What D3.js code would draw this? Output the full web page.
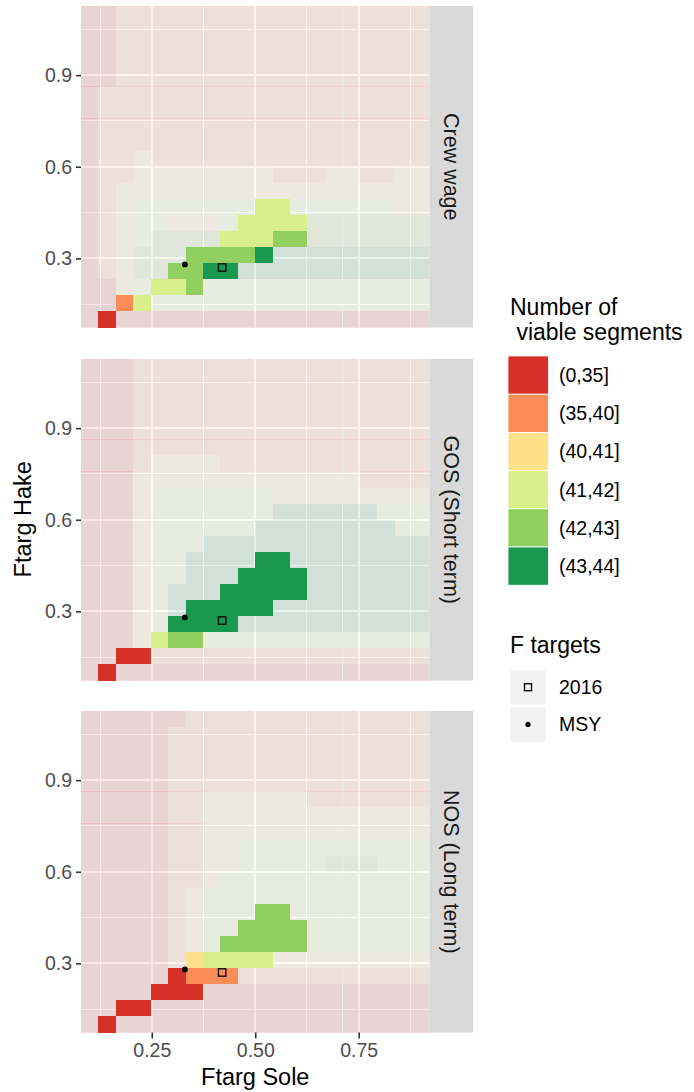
<!DOCTYPE html>
<html>
<head>
<meta charset="utf-8">
<script src="https://cdn.jsdelivr.net/npm/d3@7"></script>
<style>
  body { margin: 0; background: #fff; }
  svg text { font-family: "Liberation Sans", Arial, sans-serif; }
</style>
</head>
<body>
<div id="chart"></div>
<script>
const width = 694;
const height = 1092;

// Ftarg values on the grid (20 x 20)
const soleF = [0.100, 0.142, 0.184, 0.226, 0.268, 0.311, 0.353, 0.395, 0.437, 0.479,
               0.521, 0.563, 0.605, 0.647, 0.689, 0.732, 0.774, 0.816, 0.858, 0.900];
const hakeF = [0.100, 0.153, 0.205, 0.258, 0.311, 0.363, 0.416, 0.468, 0.521, 0.574,
               0.626, 0.679, 0.732, 0.784, 0.837, 0.889, 0.942, 0.995, 1.047, 1.100];

const categories = ["(0,35]", "(35,40]", "(40,41]", "(41,42]", "(42,43]", "(43,44]"];
const catColors = ["#D73027", "#FC8D59", "#FEE08B", "#D9EF8B", "#91CF60", "#1A9850"];

const facets = ["Crew wage", "GOS (Short term)", "NOS (Long term)"];

// category index per cell, rows from highest hake F down, one char per sole column
const crewWage = [
  "00111111111111111111", "00111111111111111111", "00111111111111111111",
  "00111111111111111111", "00111111111111111111", "01111111111111111111",
  "01111111111111111111", "01111111111111111111", "01111111111111111111",
  "01121111111111111111", "01122222222111221122", "01222222222222222222",
  "01233333333333333322", "01233222333334444444", "01234444333444444444",
  "01244444445555555555", "01244445555555555555", "00233343333333333333",
  "00133333333333333333", "00000000000000000000"
];
const gosShort = [
  "00011111111111111111", "00011111111111111111", "00011111111111111111",
  "00011111111111111111", "00011111111111111111", "00011111111111111111",
  "00012222111111111111", "00022222222222221111", "00023333333222222222",
  "00023333333555555333", "00023333335555555533", "00023335555555555555",
  "00023355555555555555", "00023355555555555555", "00023555555555555555",
  "00023555555555555555", "00023555555555555555", "00023443333333333333",
  "00001111111111111111", "00000000000000000000"
];
const nosLong = [
  "00000011111111111111", "00000111111111111111", "00000111111111111111",
  "00000111111111111111", "00000111111111111111", "00000112222221111111",
  "00000112222222222222", "00000112222222222222", "00000112233333333333",
  "00000112233333444333", "00000112333333333333", "00000123333333333333",
  "00000123334433333333", "00000123344443333333", "00000123444443333333",
  "00000123333222222222", "00000011111111111111", "00000000000000000000",
  "00000000000000000000", "00000000000000000000"
];
const panelGrids = [crewWage, gosShort, nosLong];

// cells drawn solid (the rest are faded)
const solidMask = [
  "00000000000000000000", "00000000000000000000", "00000000000000000000",
  "00000000000000000000", "00000000000000000000", "00000000000000000000",
  "00000000000000000000", "00000000000000000000", "00000000000000000000",
  "00000000000000000000", "00000000000000000000", "00000000000000000000",
  "00000000001100000000", "00000000011110000000", "00000000111110000000",
  "00000011111000000000", "00000111100000000000", "00001110000000000000",
  "00110000000000000000", "01000000000000000000"
];

const targetNames = ["2016", "MSY"];
const targetSole = [0.42, 0.33];
const targetHake = [0.27, 0.28];

const xTicks = [0.25, 0.50, 0.75];
const xMinor = [0.125, 0.375, 0.625, 0.875];
const yTicks = [0.3, 0.6, 0.9];
const yMinor = [0.15, 0.45, 0.75, 1.05];

// layout
const panelLeft = 81, panelRight = 429.5;
const panelTops = [6, 359, 711];
const panelH = 321.5;
const stripW = 43.5;

const svg = d3.select("#chart").append("svg")
    .attr("width", width).attr("height", height);

const dxHalf = (soleF[1] - soleF[0]) / 2;
const dyHalf = (hakeF[1] - hakeF[0]) / 2;

const x = d3.scaleLinear()
    .domain([d3.min(soleF) - dxHalf, d3.max(soleF) + dxHalf])
    .range([panelLeft, panelRight]);

const color = d3.scaleOrdinal().domain(d3.range(categories.length)).range(catColors);

// pixel snapping for thin lines
const snap1 = v => Math.floor(v) + 0.5;
const snap2 = v => Math.round(v);

panelGrids.forEach((grid, p) => {
    const top = panelTops[p];
    const y = d3.scaleLinear()
        .domain([d3.min(hakeF) - dyHalf, d3.max(hakeF) + dyHalf])
        .range([top + panelH, top]);

    const g = svg.append("g");

    g.append("rect")
        .attr("x", panelLeft).attr("y", top)
        .attr("width", panelRight - panelLeft).attr("height", panelH)
        .attr("fill", "#EBEBEB");

    // grid lines
    g.selectAll(".xminor").data(xMinor).enter().append("line")
        .attr("x1", d => snap1(x(d))).attr("x2", d => snap1(x(d)))
        .attr("y1", top).attr("y2", top + panelH)
        .attr("stroke", "#fff").attr("stroke-width", 1);
    g.selectAll(".yminor").data(yMinor).enter().append("line")
        .attr("y1", d => snap1(y(d))).attr("y2", d => snap1(y(d)))
        .attr("x1", panelLeft).attr("x2", panelRight)
        .attr("stroke", "#fff").attr("stroke-width", 1);
    g.selectAll(".xmajor").data(xTicks).enter().append("line")
        .attr("x1", d => snap2(x(d))).attr("x2", d => snap2(x(d)))
        .attr("y1", top).attr("y2", top + panelH)
        .attr("stroke", "#fff").attr("stroke-width", 2);
    g.selectAll(".ymajor").data(yTicks).enter().append("line")
        .attr("y1", d => snap2(y(d))).attr("y2", d => snap2(y(d)))
        .attr("x1", panelLeft).attr("x2", panelRight)
        .attr("stroke", "#fff").attr("stroke-width", 2);

    // cells
    const cells = [];
    grid.forEach((row, r) => {
        const j = hakeF.length - 1 - r;
        row.split("").forEach((ch, i) => {
            cells.push({ sole: soleF[i], hake: hakeF[j], cat: +ch, solid: solidMask[r][i] === "1" });
        });
    });

    // snap edges to whole pixels so faded cells neither overlap nor leave gaps
    const x0 = d => Math.round(x(d.sole - dxHalf));
    const x1 = d => Math.round(x(d.sole + dxHalf));
    const y0 = d => Math.round(y(d.hake + dyHalf));
    const y1 = d => Math.round(y(d.hake - dyHalf));

    const drawCells = (data, opacity) => g.selectAll(null).data(data).enter().append("rect")
        .attr("x", x0)
        .attr("y", y0)
        .attr("width", d => x1(d) - x0(d))
        .attr("height", d => y1(d) - y0(d))
        .attr("fill", d => color(d.cat))
        .attr("fill-opacity", opacity)
        .attr("shape-rendering", "crispEdges");

    drawCells(cells.filter(d => !d.solid), 0.12);
    drawCells(cells.filter(d => d.solid), 1);

    // F targets
    g.append("rect")
        .attr("x", x(targetSole[0]) - 3.7).attr("y", y(targetHake[0]) - 3.7)
        .attr("width", 7.4).attr("height", 7.4)
        .attr("fill", "none").attr("stroke", "#000").attr("stroke-width", 1.3);
    g.append("circle")
        .attr("cx", x(targetSole[1])).attr("cy", y(targetHake[1]))
        .attr("r", 2.9).attr("fill", "#000");

    // y axis
    const yAxis = d3.axisLeft(y).tickValues(yTicks).tickFormat(d3.format(".1f")).tickSize(5).tickPadding(4);
    const ya = g.append("g").attr("transform", `translate(${panelLeft},0)`).call(yAxis);
    ya.select(".domain").remove();
    ya.selectAll(".tick line").attr("stroke", "#333").attr("stroke-width", 1.6);
    ya.selectAll(".tick text").attr("fill", "#4D4D4D").attr("font-size", "19.5px")
        .attr("font-family", "'Liberation Sans', Arial, sans-serif");

    // strip
    g.append("rect")
        .attr("x", panelRight).attr("y", top)
        .attr("width", stripW).attr("height", panelH)
        .attr("fill", "#D9D9D9");
    g.append("text")
        .attr("transform", `translate(${panelRight + stripW / 2},${top + panelH / 2}) rotate(90)`)
        .attr("text-anchor", "middle").attr("dy", "0.35em")
        .attr("fill", "#1A1A1A").attr("font-size", "21.5px")
        .text(facets[p]);

    if (p === panelGrids.length - 1) {
        const xAxis = d3.axisBottom(x).tickValues(xTicks).tickFormat(d3.format(".2f")).tickSize(6).tickPadding(5);
        const xa = g.append("g").attr("transform", `translate(0,${top + panelH})`).call(xAxis);
        xa.select(".domain").remove();
        xa.selectAll(".tick line").attr("stroke", "#333").attr("stroke-width", 1.6);
        xa.selectAll(".tick text").attr("fill", "#4D4D4D").attr("font-size", "19.5px")
            .attr("font-family", "'Liberation Sans', Arial, sans-serif");
    }
});

// axis titles
svg.append("text")
    .attr("x", (panelLeft + panelRight) / 2).attr("y", 1085)
    .attr("text-anchor", "middle").attr("font-size", "23.5px").attr("fill", "#000")
    .text("Ftarg Sole");
svg.append("text")
    .attr("transform", `translate(31,${(panelTops[0] + panelTops[2] + panelH) / 2}) rotate(-90)`)
    .attr("text-anchor", "middle").attr("font-size", "23.5px").attr("fill", "#000")
    .text("Ftarg Hake");

// legend: categories
const leg = svg.append("g");
leg.append("text").attr("x", 510).attr("y", 315).attr("font-size", "23px").text("Number of");
leg.append("text").attr("x", 510).attr("y", 340).attr("font-size", "23px")
    .attr("xml:space", "preserve").style("white-space", "pre").text(" viable segments");

const keyH = 38.2;
categories.forEach((c, i) => {
    leg.append("rect")
        .attr("x", 508).attr("y", 356 + i * keyH)
        .attr("width", 40.5).attr("height", keyH)
        .attr("fill", catColors[i]).attr("stroke", "#fff").attr("stroke-width", 0.8);
    leg.append("text")
        .attr("x", 559).attr("y", 356 + i * keyH + keyH / 2)
        .attr("dy", "0.35em").attr("font-size", "19.5px")
        .text(c);
});

// legend: F targets
leg.append("text").attr("x", 510).attr("y", 653).attr("font-size", "23px").text("F targets");
targetNames.forEach((n, i) => {
    const ky = 670 + i * 37.2;
    leg.append("rect")
        .attr("x", 510.5).attr("y", ky)
        .attr("width", 35).attr("height", 34.5)
        .attr("fill", "#F2F2F2");
    if (i === 0) {
        leg.append("rect")
            .attr("x", 528 - 3.5).attr("y", ky + 17.25 - 3.5)
            .attr("width", 7).attr("height", 7)
            .attr("fill", "none").attr("stroke", "#000").attr("stroke-width", 1.3);
    } else {
        leg.append("circle").attr("cx", 528).attr("cy", ky + 17.25).attr("r", 2.6).attr("fill", "#000");
    }
    leg.append("text")
        .attr("x", 559).attr("y", ky + 17.25)
        .attr("dy", "0.35em").attr("font-size", "19.5px")
        .text(n);
});
</script>
</body>
</html>
